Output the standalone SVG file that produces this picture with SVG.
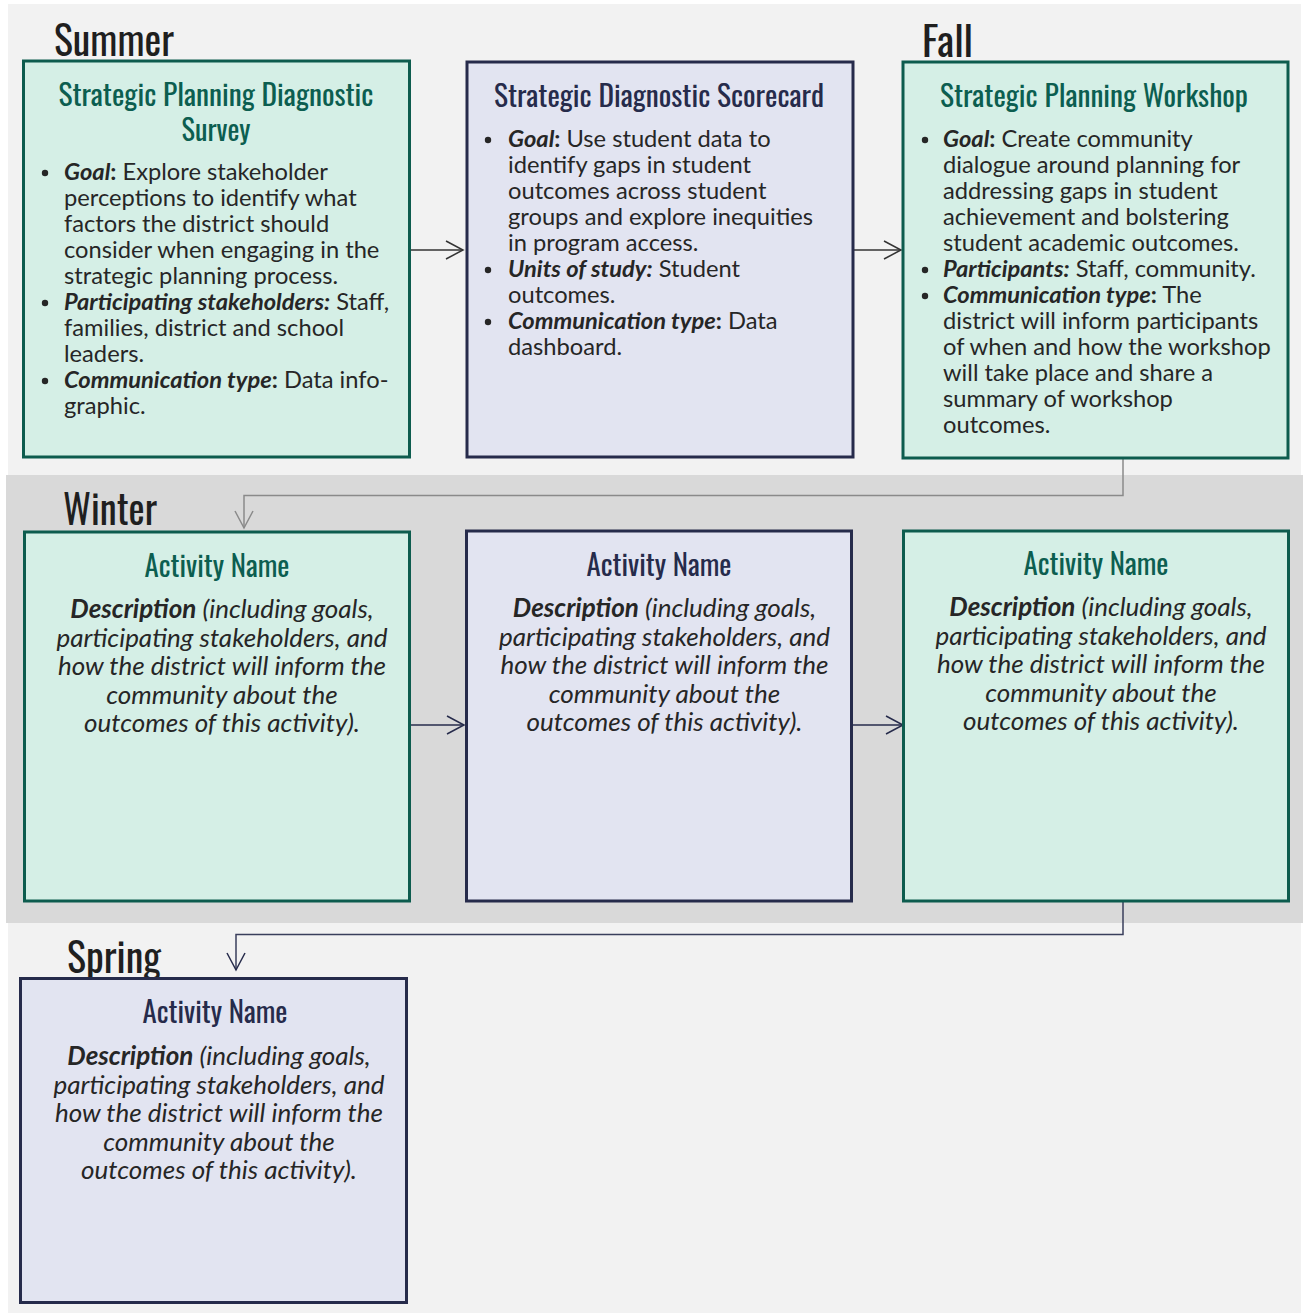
<svg xmlns="http://www.w3.org/2000/svg" width="1303" height="1315" viewBox="0 0 1303 1315">
<style>
.season{font-family:"Oswald","DejaVu Sans Condensed","DejaVu Sans",sans-serif;font-stretch:condensed;font-size:41px;fill:#1f1f1f}
.title{font-family:"Oswald","DejaVu Sans Condensed","DejaVu Sans",sans-serif;font-stretch:condensed;font-size:28px;text-anchor:middle}
.tg{fill:#0c5e50}
.tn{fill:#262b4b}
.body{font-family:Lato,"Liberation Sans",sans-serif;font-size:23.7px;fill:#262626}
.desc{font-family:Lato,"Liberation Sans",sans-serif;font-size:26px;font-style:italic;fill:#262626;text-anchor:middle}
.lbl{font-weight:bold;font-style:italic}
.b{font-weight:bold}
.gbox{fill:#d5efe6;stroke:#0d5c4e;stroke-width:3}
.nbox{fill:#e2e4f1;stroke:#262b4b;stroke-width:3}
.dot{fill:#262626}
.c{fill:none;stroke-width:1.5}
</style>
<defs>
<marker id="ad" viewBox="0 0 20 20" refX="18" refY="10" markerWidth="20" markerHeight="20" markerUnits="userSpaceOnUse" orient="auto">
<path d="M1,1 L18,10 L1,19" fill="none" stroke="#333333" stroke-width="1.5"/>
</marker>
<marker id="an" viewBox="0 0 20 20" refX="18" refY="10" markerWidth="20" markerHeight="20" markerUnits="userSpaceOnUse" orient="auto">
<path d="M1,1 L18,10 L1,19" fill="none" stroke="#262b4b" stroke-width="1.5"/>
</marker>
<marker id="ag" viewBox="0 0 20 20" refX="18" refY="10" markerWidth="20" markerHeight="20" markerUnits="userSpaceOnUse" orient="auto">
<path d="M1,1 L18,10 L1,19" fill="none" stroke="#8a8a8a" stroke-width="1.5"/>
</marker>
</defs>
<rect x="0" y="0" width="1303" height="1315" fill="#ffffff"/>
<rect x="8" y="4" width="1293" height="1309" fill="#f2f2f2"/>
<rect x="6" y="475" width="1297" height="448" fill="#d9d9d9"/>

<g id="season-labels">
<text class="season" x="54" y="56" textLength="120" lengthAdjust="spacingAndGlyphs">Summer</text>
<text class="season" x="922" y="57" textLength="51" lengthAdjust="spacingAndGlyphs">Fall</text>
<text class="season" x="63" y="525" textLength="94" lengthAdjust="spacingAndGlyphs">Winter</text>
<text class="season" x="67" y="973" textLength="94" lengthAdjust="spacingAndGlyphs">Spring</text>
</g>

<g id="connectors">
<line class="c" x1="410" y1="250" x2="463" y2="250" stroke="#333333" marker-end="url(#ad)"/>
<line class="c" x1="853" y1="250" x2="901" y2="250" stroke="#333333" marker-end="url(#ad)"/>
<polyline class="c" points="1123,458 1123,495.5 244,495.5 244,528" stroke="#8a8a8a" marker-end="url(#ag)"/>
<line class="c" x1="410" y1="725" x2="464" y2="725" stroke="#262b4b" marker-end="url(#an)"/>
<line class="c" x1="852" y1="725" x2="903" y2="725" stroke="#262b4b" marker-end="url(#an)"/>
<polyline class="c" points="1123,901 1123,934.5 236,934.5 236,970" stroke="#3a3f5c" marker-end="url(#an)"/>
</g>

<g id="node-survey">
<rect class="gbox" x="23.5" y="61" width="386" height="396"/>
<text class="title tg" x="216" y="106" textLength="315" lengthAdjust="spacingAndGlyphs">Strategic Planning Diagnostic</text>
<text class="title tg" x="216" y="141" textLength="69" lengthAdjust="spacingAndGlyphs">Survey</text>
<circle class="dot" cx="45" cy="173" r="3.2"/>
<circle class="dot" cx="45" cy="303" r="3.2"/>
<circle class="dot" cx="45" cy="381" r="3.2"/>
<text class="body" x="64" y="180"><tspan class="lbl">Goal</tspan><tspan class="b">:</tspan> Explore stakeholder</text>
<text class="body" x="64" y="206">perceptions to identify what</text>
<text class="body" x="64" y="232">factors the district should</text>
<text class="body" x="64" y="258">consider when engaging in the</text>
<text class="body" x="64" y="284">strategic planning process.</text>
<text class="body" x="64" y="310"><tspan class="lbl">Participating stakeholders:</tspan> Staff,</text>
<text class="body" x="64" y="336">families, district and school</text>
<text class="body" x="64" y="362">leaders.</text>
<text class="body" x="64" y="388"><tspan class="lbl">Communication type</tspan><tspan class="b">:</tspan> Data info-</text>
<text class="body" x="64" y="414">graphic.</text>
</g>

<g id="node-scorecard">
<rect class="nbox" x="467" y="62" width="386" height="395"/>
<text class="title tn" x="659" y="107" textLength="330" lengthAdjust="spacingAndGlyphs">Strategic Diagnostic Scorecard</text>
<circle class="dot" cx="488" cy="140" r="3.2"/>
<circle class="dot" cx="488" cy="270" r="3.2"/>
<circle class="dot" cx="488" cy="322" r="3.2"/>
<text class="body" x="508" y="147"><tspan class="lbl">Goal</tspan><tspan class="b">:</tspan> Use student data to</text>
<text class="body" x="508" y="173">identify gaps in student</text>
<text class="body" x="508" y="199">outcomes across student</text>
<text class="body" x="508" y="225">groups and explore inequities</text>
<text class="body" x="508" y="251">in program access.</text>
<text class="body" x="508" y="277"><tspan class="lbl">Units of study:</tspan> Student</text>
<text class="body" x="508" y="303">outcomes.</text>
<text class="body" x="508" y="329"><tspan class="lbl">Communication type</tspan><tspan class="b">:</tspan> Data</text>
<text class="body" x="508" y="355">dashboard.</text>
</g>

<g id="node-workshop">
<rect class="gbox" x="903" y="62" width="385" height="396"/>
<text class="title tg" x="1094" y="107" textLength="308" lengthAdjust="spacingAndGlyphs">Strategic Planning Workshop</text>
<circle class="dot" cx="925" cy="140" r="3.2"/>
<circle class="dot" cx="925" cy="270" r="3.2"/>
<circle class="dot" cx="925" cy="296" r="3.2"/>
<text class="body" x="943" y="147"><tspan class="lbl">Goal</tspan><tspan class="b">:</tspan> Create community</text>
<text class="body" x="943" y="173">dialogue around planning for</text>
<text class="body" x="943" y="199">addressing gaps in student</text>
<text class="body" x="943" y="225">achievement and bolstering</text>
<text class="body" x="943" y="251">student academic outcomes.</text>
<text class="body" x="943" y="277"><tspan class="lbl">Participants:</tspan> Staff, community.</text>
<text class="body" x="943" y="303"><tspan class="lbl">Communication type</tspan><tspan class="b">:</tspan> The</text>
<text class="body" x="943" y="329">district will inform participants</text>
<text class="body" x="943" y="355">of when and how the workshop</text>
<text class="body" x="943" y="381">will take place and share a</text>
<text class="body" x="943" y="407">summary of workshop</text>
<text class="body" x="943" y="433">outcomes.</text>
</g>

<g id="node-winter-1">
<rect class="gbox" x="24.5" y="532" width="385" height="369"/>
<text class="title tg" x="217" y="577" textLength="145" lengthAdjust="spacingAndGlyphs">Activity Name</text>
<text class="desc" x="222" y="618"><tspan font-weight="bold">Description</tspan> (including goals,</text>
<text class="desc" x="222" y="646.5">participating stakeholders, and</text>
<text class="desc" x="222" y="675">how the district will inform the</text>
<text class="desc" x="222" y="703.5">community about the</text>
<text class="desc" x="222" y="732">outcomes of this activity).</text>
</g>

<g id="node-winter-2">
<rect class="nbox" x="466.5" y="531" width="385" height="370"/>
<text class="title tn" x="659" y="576" textLength="145" lengthAdjust="spacingAndGlyphs">Activity Name</text>
<text class="desc" x="664.5" y="617"><tspan font-weight="bold">Description</tspan> (including goals,</text>
<text class="desc" x="664.5" y="645.5">participating stakeholders, and</text>
<text class="desc" x="664.5" y="674">how the district will inform the</text>
<text class="desc" x="664.5" y="702.5">community about the</text>
<text class="desc" x="664.5" y="731">outcomes of this activity).</text>
</g>

<g id="node-winter-3">
<rect class="gbox" x="903.5" y="531" width="385" height="370"/>
<text class="title tg" x="1096" y="575" textLength="145" lengthAdjust="spacingAndGlyphs">Activity Name</text>
<text class="desc" x="1101" y="616"><tspan font-weight="bold">Description</tspan> (including goals,</text>
<text class="desc" x="1101" y="644.5">participating stakeholders, and</text>
<text class="desc" x="1101" y="673">how the district will inform the</text>
<text class="desc" x="1101" y="701.5">community about the</text>
<text class="desc" x="1101" y="730">outcomes of this activity).</text>
</g>

<g id="node-spring">
<rect class="nbox" x="20.5" y="978.5" width="386" height="324"/>
<text class="title tn" x="215" y="1023" textLength="145" lengthAdjust="spacingAndGlyphs">Activity Name</text>
<text class="desc" x="219" y="1065"><tspan font-weight="bold">Description</tspan> (including goals,</text>
<text class="desc" x="219" y="1093.5">participating stakeholders, and</text>
<text class="desc" x="219" y="1122">how the district will inform the</text>
<text class="desc" x="219" y="1150.5">community about the</text>
<text class="desc" x="219" y="1179">outcomes of this activity).</text>
</g>
</svg>
